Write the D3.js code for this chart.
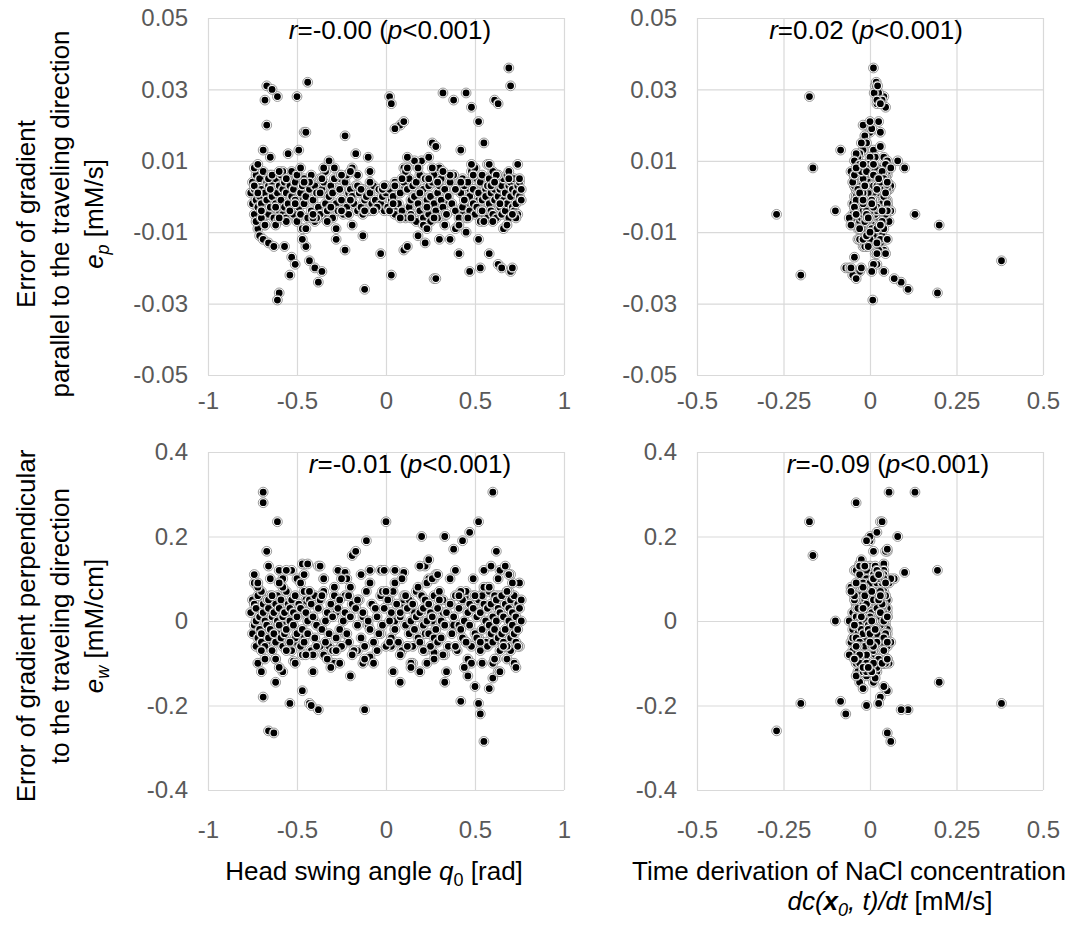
<!DOCTYPE html>
<html>
<head>
<meta charset="utf-8">
<script src="https://cdn.jsdelivr.net/npm/d3@7"></script>
<style>
  body { margin: 0; background: #fff; }
  text { font-family: "Liberation Sans", Arial, sans-serif; }
</style>
</head>
<body>
<svg id="chart" width="1083" height="926"></svg>
<script>
(function(d3) {
  'use strict';

  // one entry per observation: head swing angle, dc/dt, error parallel, error perpendicular
  var headAngle = [
    -0.66,-0.54,-0.61,-0.19,-0.43,-0.60,0.33,0.60,0.10,-0.12,-0.38,0.42,0.53,0.05,0.20,0.27,
    -0.67,-0.64,-0.68,-0.44,-0.67,-0.69,-0.65,-0.50,-0.46,-0.45,-0.55,-0.49,-0.23,0.02,0.03,0.08,0.10,0.05,
    0.24,0.26,0.28,0.32,0.38,0.45,0.48,0.52,0.55,0.61,0.63,0.69,0.70,-0.17,-0.10,0.16,-0.32,0.12,
    -0.72,-0.71,-0.69,-0.66,-0.63,-0.61,-0.53,-0.51,-0.45,-0.40,-0.36,-0.23,-0.03,0.03,0.10,0.12,0.18,
    0.28,0.36,0.41,0.47,0.52,0.58,0.63,0.65,0.70,0.71,-0.47,-0.57,-0.28,0.30,0.22,-0.13,
    -0.69,-0.69,-0.67,-0.66,-0.53,-0.47,-0.44,-0.38,-0.35,-0.27,-0.23,-0.17,-0.11,-0.09,-0.03,0.00,
    0.05,0.22,0.24,0.33,0.38,0.43,0.47,0.52,0.55,0.62,0.64,0.67,0.70,-0.58,0.28,
    -0.72,-0.69,-0.63,-0.62,-0.58,-0.47,-0.42,-0.35,-0.29,-0.26,-0.16,-0.09,0.08,0.15,0.19,0.27,
    0.46,0.50,0.52,0.55,0.58,0.60,0.63,0.68,0.70,-0.52,
    -0.76,-0.75,-0.75,-0.74,-0.74,-0.73,-0.73,-0.73,-0.72,-0.72,
    -0.71,-0.71,-0.70,-0.70,-0.70,-0.69,-0.69,-0.68,-0.68,-0.67,
    -0.67,-0.66,-0.66,-0.65,-0.65,-0.64,-0.64,-0.63,-0.63,-0.62,
    -0.62,-0.61,-0.61,-0.60,-0.60,-0.59,-0.59,-0.58,-0.58,-0.57,
    -0.57,-0.56,-0.56,-0.55,-0.55,-0.54,-0.54,-0.53,-0.53,-0.52,
    -0.52,-0.51,-0.51,-0.50,-0.50,-0.49,-0.48,-0.48,-0.47,-0.46,
    -0.46,-0.45,-0.44,-0.44,-0.43,-0.42,-0.42,-0.41,-0.40,-0.40,
    -0.39,-0.38,-0.37,-0.37,-0.36,-0.35,-0.34,-0.34,-0.33,-0.32,
    -0.31,-0.30,-0.30,-0.29,-0.28,-0.27,-0.26,-0.26,-0.25,-0.24,
    -0.23,-0.22,-0.21,-0.21,-0.20,-0.19,-0.18,-0.17,-0.16,-0.15,
    -0.14,-0.13,-0.12,-0.11,-0.10,-0.09,-0.08,-0.07,-0.06,-0.05,
    -0.04,-0.03,-0.02,-0.01,0.00,0.01,0.02,0.03,0.04,0.05,
    0.06,0.07,0.08,0.09,0.10,0.11,0.12,0.13,0.13,0.14,
    0.15,0.15,0.16,0.17,0.17,0.18,0.19,0.19,0.20,0.21,
    0.21,0.22,0.22,0.23,0.24,0.24,0.25,0.25,0.26,0.27,
    0.27,0.28,0.29,0.29,0.30,0.31,0.31,0.32,0.33,0.34,
    0.35,0.36,0.37,0.38,0.39,0.40,0.41,0.42,0.43,0.43,
    0.44,0.45,0.45,0.46,0.47,0.47,0.48,0.49,0.49,0.50,
    0.51,0.51,0.52,0.53,0.53,0.54,0.54,0.55,0.56,0.56,
    0.57,0.57,0.58,0.58,0.59,0.59,0.60,0.60,0.61,0.61,
    0.62,0.62,0.63,0.63,0.64,0.64,0.65,0.65,0.66,0.66,
    0.67,0.67,0.68,0.68,0.69,0.69,0.70,0.70,0.71,0.71,
    0.72,0.72,0.73,0.73,0.74,0.74,0.75,0.75,0.76,0.76,
    -0.74,-0.70,-0.66,-0.62,-0.58,-0.54,-0.50,-0.47,-0.43,-0.39,
    -0.36,-0.33,-0.29,-0.25,-0.22,-0.19,-0.16,-0.13,-0.09,-0.05,
    -0.02,0.02,0.05,0.08,0.11,0.14,0.18,0.21,0.24,0.27,
    0.30,0.33,0.36,0.39,0.42,0.46,0.50,0.53,0.57,0.60,
    0.63,0.66,0.69,0.72,0.75,-0.72,-0.68,-0.64,-0.56,-0.48,
    -0.41,-0.35,-0.28,-0.20,-0.12,0.00,0.12,0.23,0.32,0.41,
    0.48,0.55,0.62,0.68,0.74,-0.60,-0.45,0.26,0.45,0.58,
    -0.74,-0.70,-0.65,-0.60,-0.56,-0.51,-0.46,-0.41,-0.37,-0.31,
    -0.25,-0.20,-0.14,-0.07,-0.01,0.04,0.09,0.14,0.19,0.23,
    0.29,0.34,0.39,0.44,0.49,0.54,0.59,0.64,0.69,0.73,
    -0.72,-0.62,0.61,0.71
  ];

  var dcdtRate = [
    -0.27,-0.20,-0.175,-0.165,0.38,0.195,0.20,0.13,0.10,0.11,0.09,-0.085,-0.07,-0.10,0.08,0.07,
    0.015,0.02,0.03,0.018,-0.01,-0.02,0.04,0.035,0.0,0.03,-0.03,0.01,-0.015,0.04,0.02,-0.02,0.025,0.005,
    -0.035,-0.01,0.03,0.025,0.035,0.012,0.045,0.0,-0.025,0.02,0.03,0.01,0.022,-0.04,0.015,-0.045,0.05,0.0,
    -0.02,0.01,-0.035,0.03,-0.01,0.008,-0.045,0.02,-0.02,-0.06,-0.03,0.04,0.015,-0.05,0.025,-0.015,0.035,
    -0.04,0.0,0.045,0.04,-0.03,0.02,0.01,-0.055,0.005,-0.025,0.03,-0.005,0.05,-0.02,0.02,-0.01,
    0.055,-0.04,0.05,-0.02,0.01,-0.03,0.04,0.0,0.02,-0.045,0.03,0.045,0.0,-0.01,0.025,0.03,
    -0.035,0.015,-0.025,0.0,0.05,-0.01,0.02,0.035,-0.04,0.01,0.04,-0.015,0.02,0.0,-0.03,
    0.01,0.03,0.05,-0.03,0.02,0.05,-0.01,0.03,-0.02,0.04,0.0,-0.04,0.01,0.035,-0.025,0.02,
    -0.01,0.04,0.025,0.06,-0.02,0.015,-0.035,0.045,0.0,0.03,
    0.01,-0.02,0.03,0.00,-0.01,0.02,-0.03,0.04,0.01,-0.005,
    0.015,-0.025,0.005,0.035,-0.015,0.02,-0.04,0.00,0.025,-0.01,
    0.03,-0.02,0.01,0.045,-0.03,0.005,0.02,-0.01,0.04,-0.035,
    0.00,0.025,-0.015,0.01,0.035,-0.045,0.015,-0.005,0.03,0.02,
    -0.025,0.04,0.005,-0.01,0.02,-0.03,0.05,0.01,-0.02,0.03,
    0.015,-0.04,0.025,0.00,-0.015,0.035,0.01,-0.025,0.045,-0.005,
    0.02,-0.035,0.03,0.005,-0.02,0.04,-0.01,0.015,-0.045,0.025,
    0.00,0.035,-0.03,0.01,0.05,-0.015,0.02,-0.005,0.03,-0.04,
    0.015,-0.02,0.04,0.005,-0.035,0.025,-0.01,0.045,0.00,-0.025,
    0.03,-0.015,0.01,0.035,-0.04,0.02,-0.005,0.015,-0.03,0.04,
    0.005,-0.02,0.025,-0.045,0.01,0.03,-0.01,0.02,-0.035,0.045,
    0.00,-0.025,0.035,0.015,-0.015,0.05,-0.03,0.01,0.025,-0.05,
    0.02,-0.01,0.04,-0.02,0.005,0.03,-0.04,0.015,-0.005,0.035,
    -0.03,0.025,0.00,0.045,-0.015,0.01,-0.025,0.035,0.02,-0.045,
    0.005,0.03,-0.02,0.015,-0.035,0.04,0.00,-0.01,0.025,-0.05,
    0.035,-0.005,0.02,-0.03,0.01,0.045,-0.015,0.025,-0.04,0.005,
    0.015,-0.025,0.05,0.00,-0.02,0.03,-0.035,0.02,0.01,-0.01,
    0.04,-0.04,0.005,0.025,-0.03,0.015,-0.005,0.035,-0.015,0.02,
    -0.02,0.045,0.01,-0.045,0.03,0.00,-0.025,0.02,0.04,-0.01,
    0.025,-0.035,0.015,-0.005,0.035,-0.02,0.05,0.005,-0.03,0.01,
    -0.015,0.04,-0.04,0.02,0.00,0.03,-0.01,0.045,-0.025,0.015,
    0.035,-0.005,0.025,-0.035,0.01,-0.02,0.04,0.005,-0.045,0.03,
    0.00,0.02,-0.03,0.05,-0.01,0.015,-0.02,0.035,0.005,-0.04,
    0.055,-0.05,0.01,0.02,-0.055,0.06,-0.01,0.00,0.03,-0.02,
    0.045,-0.03,0.005,-0.015,0.025,0.015,-0.045,0.04,-0.005,0.01,
    -0.035,0.05,0.02,-0.025,0.035,-0.04,0.00,0.03,0.015,-0.01,
    0.025,-0.02,0.04,0.005,-0.05,0.045,-0.015,0.02,-0.03,0.055,
    0.01,-0.035,0.03,0.045,-0.02,-0.005,0.025,-0.045,0.035,0.0,
    -0.06,0.015,0.04,-0.025,0.05,0.005,-0.04,0.02,-0.01,0.03,
    0.045,-0.015,0.025,-0.055,0.01,0.035,-0.03,0.06,0.0,-0.02,
    0.01,-0.02,0.03,-0.01,0.02,-0.03,0.04,0.0,-0.02,0.02,
    0.01,-0.04,0.03,-0.01,0.02,-0.02,0.04,0.0,-0.03,0.01,
    0.03,-0.01,0.02,-0.02,0.01,0.035,-0.015,0.005,0.025,-0.005,
    0.045,-0.045,0.05,-0.04
  ];

  var errParallel = [
    -0.005,-0.022,0.028,0.008,-0.018,-0.027,-0.008,-0.005,0.008,-0.026,-0.024,0.013,-0.020,-0.004,0.010,-0.023,
    0.031,0.030,0.027,0.032,0.020,0.013,0.011,0.028,0.018,0.018,0.012,0.013,0.017,0.028,0.026,0.020,0.021,0.019,
    0.011,0.015,0.014,0.029,0.027,0.029,0.025,0.021,0.015,0.027,0.026,0.036,0.031,0.012,0.011,0.010,0.010,0.011,
    -0.009,-0.011,-0.012,-0.013,-0.014,-0.029,-0.017,-0.019,-0.014,-0.020,-0.021,-0.015,-0.016,-0.022,-0.015,-0.014,-0.011,
    -0.023,-0.012,-0.016,-0.021,-0.012,-0.016,-0.019,-0.020,-0.021,-0.020,-0.012,-0.014,-0.012,-0.012,-0.013,-0.011,
    0.002,-0.003,0.004,-0.005,0.006,-0.002,0.003,-0.006,0.001,0.005,-0.004,0.002,-0.001,0.007,-0.003,0.000,
    0.004,-0.005,0.003,-0.002,0.006,-0.004,0.002,0.005,-0.006,0.001,-0.003,0.004,-0.001,0.003,-0.002,
    0.001,-0.004,0.002,-0.003,0.005,-0.001,0.004,-0.005,0.002,-0.002,0.006,-0.004,0.003,-0.006,0.001,0.005,
    -0.003,0.002,-0.001,0.003,-0.004,0.006,-0.002,0.004,-0.005,0.001,
    0.001,-0.002,0.004,-0.005,0.002,-0.001,0.006,-0.007,0.003,-0.003,
    0.000,0.005,-0.006,0.002,-0.002,0.007,-0.004,0.001,-0.008,0.004,
    -0.001,0.003,-0.005,0.006,-0.003,0.000,0.004,-0.006,0.002,-0.002,
    0.005,-0.007,0.001,-0.004,0.003,0.006,-0.001,-0.005,0.002,0.004,
    -0.003,0.001,-0.006,0.005,-0.002,0.003,-0.004,0.000,0.007,-0.005,
    0.002,-0.001,0.004,-0.007,0.006,-0.003,0.001,-0.005,0.003,0.005,
    -0.002,0.000,-0.006,0.004,0.002,-0.004,0.006,-0.001,0.003,-0.007,
    0.001,-0.003,0.005,-0.005,0.002,0.004,-0.002,0.007,-0.004,0.000,
    0.003,-0.006,0.001,0.005,-0.002,-0.004,0.002,0.006,-0.001,-0.005,
    0.004,-0.003,0.001,-0.005,0.002,0.000,-0.002,0.003,-0.004,0.001,
    -0.003,0.002,-0.001,0.000,-0.004,0.001,-0.002,0.003,-0.001,-0.003,
    0.002,-0.002,0.000,-0.004,0.001,-0.003,0.002,-0.001,0.000,-0.005,
    0.003,-0.002,0.001,-0.004,0.004,-0.006,0.002,-0.003,0.005,-0.001,
    -0.005,0.003,0.000,-0.007,0.004,-0.002,0.006,-0.004,0.001,-0.006,
    0.002,-0.003,0.005,-0.001,-0.005,0.003,0.000,-0.007,0.004,-0.002,
    0.006,-0.004,0.001,-0.006,0.003,-0.001,0.005,-0.003,0.002,-0.005,
    0.000,0.004,-0.002,0.006,-0.004,0.002,-0.006,0.001,0.005,-0.003,
    0.003,-0.001,-0.006,0.004,0.000,-0.004,0.007,-0.002,0.002,-0.005,
    0.005,-0.003,0.001,-0.007,0.004,-0.001,0.006,-0.004,0.002,0.000,
    -0.006,0.003,-0.002,0.005,-0.004,0.001,0.007,-0.005,0.002,-0.001,
    0.004,-0.006,0.000,0.006,-0.003,0.002,-0.005,0.003,-0.001,0.005,
    -0.004,0.001,0.006,-0.002,0.003,-0.006,0.000,0.004,-0.003,0.002,
    0.005,-0.004,0.001,-0.002,0.003,-0.005,0.000,0.004,-0.001,0.002,
    0.008,-0.006,0.005,-0.008,0.007,-0.004,0.006,-0.009,0.004,-0.006,
    0.005,-0.007,0.008,-0.004,0.006,-0.008,0.003,-0.005,0.004,-0.003,
    0.002,-0.004,0.003,-0.006,0.007,-0.005,0.008,-0.008,0.005,-0.006,
    0.008,-0.005,0.006,-0.009,0.004,-0.006,0.008,-0.004,0.009,-0.007,
    0.006,-0.009,0.007,-0.005,0.005,0.009,-0.008,0.006,-0.007,0.008,
    -0.006,0.008,-0.009,0.007,-0.004,0.003,0.008,-0.009,0.007,-0.008,
    0.009,-0.007,0.006,-0.008,0.009,0.007,-0.009,0.008,-0.010,0.009,
    0.003,-0.004,0.002,-0.006,0.005,-0.002,0.004,-0.005,0.001,-0.003,
    0.006,-0.001,0.002,-0.004,0.003,-0.002,0.005,-0.006,0.001,-0.003,
    0.004,-0.005,0.002,-0.001,0.006,-0.004,0.003,-0.002,0.005,-0.006,
    0.001,-0.003,0.004,-0.005
  ];

  var errPerp = [
    -0.26,-0.195,0.235,0.155,-0.195,0.12,-0.145,0.305,0.115,-0.21,-0.21,-0.19,-0.22,0.00,0.20,0.10,
    0.02,-0.03,0.04,0.01,-0.05,0.06,-0.02,0.03,-0.04,0.05,0.0,0.02,-0.03,0.05,-0.06,0.01,0.04,-0.02,
    0.03,0.0,-0.05,0.02,-0.01,0.06,0.03,-0.04,0.07,-0.02,0.05,0.01,-0.03,0.04,-0.01,0.02,-0.06,0.03,
    0.03,-0.04,0.05,-0.01,0.02,-0.03,0.01,-0.05,0.04,0.0,-0.02,0.06,-0.03,0.02,0.05,-0.06,0.01,
    -0.02,0.04,-0.01,0.03,-0.04,0.0,0.06,-0.05,0.02,-0.02,0.03,-0.01,0.02,0.05,-0.03,0.01,
    0.305,0.28,0.165,0.13,0.12,0.135,0.135,0.13,0.10,0.12,0.115,0.165,0.19,0.12,0.12,0.235,
    0.12,0.13,0.145,0.20,0.17,0.19,0.21,0.235,0.12,0.165,0.12,0.13,0.11,0.10,0.11,
    -0.10,-0.18,-0.265,-0.145,-0.12,-0.165,-0.20,-0.08,-0.10,-0.10,-0.07,-0.085,-0.145,-0.10,-0.12,-0.075,
    -0.13,-0.155,-0.195,-0.285,-0.16,-0.135,-0.12,-0.09,-0.07,-0.095,
    0.02,-0.03,0.05,-0.01,0.04,-0.06,0.00,0.03,-0.04,0.06,
    -0.02,0.01,-0.05,0.07,-0.03,0.02,0.04,-0.06,0.00,-0.01,
    0.05,-0.04,0.03,-0.02,0.06,0.01,-0.07,0.02,-0.03,0.04,
    -0.05,0.00,0.06,-0.01,0.03,-0.04,0.05,-0.06,0.01,0.02,
    -0.03,0.07,-0.02,0.04,-0.05,0.00,0.03,-0.07,0.05,-0.01,
    0.02,-0.04,0.06,-0.03,0.01,0.04,-0.06,0.03,-0.02,0.07,
    -0.05,0.02,0.00,-0.03,0.05,-0.07,0.04,0.01,-0.04,0.06,
    -0.01,0.03,-0.06,0.05,-0.02,0.07,0.00,-0.05,0.02,-0.03,
    0.04,-0.07,0.01,0.06,-0.04,0.03,-0.02,0.05,-0.06,0.00,
    0.02,-0.03,0.06,-0.05,0.01,0.04,-0.07,0.03,-0.01,0.05,
    -0.04,0.02,-0.06,0.07,0.00,-0.02,0.04,-0.05,0.03,0.01,
    -0.03,0.06,-0.01,0.03,-0.06,0.05,0.00,-0.04,0.07,-0.02,
    0.04,-0.05,0.02,-0.07,0.06,-0.01,0.03,-0.03,0.05,0.00,
    -0.06,0.04,-0.02,0.01,0.07,-0.04,0.02,-0.05,0.06,-0.01,
    0.03,-0.07,0.05,0.00,-0.03,0.04,-0.06,0.02,0.01,-0.04,
    0.06,-0.02,0.03,-0.05,0.07,0.00,-0.04,0.05,-0.01,0.02,
    -0.06,0.04,-0.03,0.01,0.06,-0.07,0.03,-0.02,0.05,-0.04,
    0.00,0.07,-0.05,0.02,-0.01,0.04,-0.06,0.03,0.06,-0.03,
    0.01,-0.04,0.05,-0.07,0.02,0.06,-0.02,0.04,-0.05,0.00,
    0.03,-0.06,0.07,-0.01,0.04,-0.03,0.01,-0.05,0.06,-0.02,
    0.05,0.00,-0.04,0.03,-0.07,0.02,0.06,-0.03,0.01,-0.05,
    0.04,-0.02,0.07,-0.06,0.00,0.03,-0.04,0.05,-0.01,0.02,
    -0.03,0.06,-0.05,0.01,0.04,-0.02,0.03,-0.06,0.00,0.05,
    0.09,-0.07,0.05,-0.09,0.08,-0.05,0.10,-0.08,0.07,-0.06,
    0.06,-0.09,0.08,-0.06,0.10,-0.08,0.05,-0.10,0.09,-0.07,
    0.07,-0.05,0.09,-0.08,0.06,-0.10,0.08,-0.07,0.10,-0.09,
    0.05,-0.08,0.10,-0.06,0.07,-0.09,0.06,-0.05,0.08,-0.10,
    0.10,-0.06,0.07,-0.10,0.09,0.08,-0.09,0.06,-0.07,0.09,
    -0.08,0.10,-0.07,0.08,-0.09,0.07,-0.06,0.09,-0.08,0.06,
    -0.10,0.08,-0.09,0.07,-0.06,0.09,-0.08,0.10,-0.05,0.08,
    0.11,-0.12,0.10,-0.11,0.12,-0.10,0.11,-0.12,0.13,-0.11,
    0.10,-0.13,0.11,-0.10,0.12,-0.12,0.10,-0.11,0.13,-0.10,
    0.11,-0.12,0.12,-0.11,0.10,-0.10,0.13,-0.12,0.11,-0.11,
    0.09,-0.09,-0.09,0.09
  ];

  var angleTicks = [-1, -0.5, 0, 0.5, 1];
  var angleLabels = ['-1', '-0.5', '0', '0.5', '1'];
  var rateTicks = [-0.5, -0.25, 0, 0.25, 0.5];
  var rateLabels = ['-0.5', '-0.25', '0', '0.25', '0.5'];
  var parTicks = [-0.05, -0.03, -0.01, 0.01, 0.03, 0.05];
  var parLabels = ['-0.05', '-0.03', '-0.01', '0.01', '0.03', '0.05'];
  var perpTicks = [-0.4, -0.2, 0, 0.2, 0.4];
  var perpLabels = ['-0.4', '-0.2', '0', '0.2', '0.4'];
  var corrR = ['-0.00', '0.02', '-0.01', '-0.09'];
  var corrP = ['<0.001', '<0.001', '<0.001', '<0.001'];

  var n = Math.min(headAngle.length, dcdtRate.length, errParallel.length, errPerp.length);
  var idx = d3.range(n);

  var gridColor = '#d9d9d9';
  var tickColor = '#595959';

  var svg = d3.select('#chart');

  var panels = [
    { xs: headAngle, ys: errParallel, xDom: [-1, 1], xT: angleTicks, xL: angleLabels,
      yDom: [-0.05, 0.05], yT: parTicks, yL: parLabels, left: 208, right: 564, top: 18, bottom: 375, pad: 17, noteX: 390 },
    { xs: dcdtRate, ys: errParallel, xDom: [-0.5, 0.5], xT: rateTicks, xL: rateLabels,
      yDom: [-0.05, 0.05], yT: parTicks, yL: parLabels, left: 697, right: 1043, top: 18, bottom: 375, pad: 17, noteX: 866 },
    { xs: headAngle, ys: errPerp, xDom: [-1, 1], xT: angleTicks, xL: angleLabels,
      yDom: [-0.4, 0.4], yT: perpTicks, yL: perpLabels, left: 208, right: 564, top: 452, bottom: 790, pad: 31, noteX: 410 },
    { xs: dcdtRate, ys: errPerp, xDom: [-0.5, 0.5], xT: rateTicks, xL: rateLabels,
      yDom: [-0.4, 0.4], yT: perpTicks, yL: perpLabels, left: 697, right: 1043, top: 452, bottom: 790, pad: 31, noteX: 888 }
  ];

  panels.forEach(function(p, k) {
    var x = d3.scaleLinear().domain(p.xDom).range([p.left, p.right]);
    var y = d3.scaleLinear().domain(p.yDom).range([p.bottom, p.top]);
    var g = svg.append('g');

    var gx = g.append('g')
      .attr('transform', 'translate(0,' + p.bottom + ')')
      .call(d3.axisBottom(x)
        .tickValues(p.xT)
        .tickSize(-(p.bottom - p.top))
        .tickPadding(p.pad)
        .tickFormat(function(d, i) { return p.xL[i]; }));

    var gy = g.append('g')
      .attr('transform', 'translate(' + p.left + ',0)')
      .call(d3.axisLeft(y)
        .tickValues(p.yT)
        .tickSize(-(p.right - p.left))
        .tickPadding(20)
        .tickFormat(function(d, i) { return p.yL[i]; }));

    [gx, gy].forEach(function(a) {
      a.select('.domain').remove();
      a.selectAll('line').attr('stroke', gridColor).attr('stroke-width', 1.2);
      a.selectAll('text')
        .attr('fill', tickColor)
        .style('font-size', '24px');
    });

    var pts = g.append('g').selectAll('g')
      .data(idx)
      .enter()
      .append('g')
      .attr('transform', function(i) {
        return 'translate(' + x(p.xs[i]) + ',' + y(p.ys[i]) + ')';
      });
    pts.append('circle')
      .attr('r', 4.9)
      .attr('fill', '#fff')
      .attr('stroke', '#7f7f7f')
      .attr('stroke-width', 0.8);
    pts.append('circle')
      .attr('r', 3.4)
      .attr('fill', '#000');

    // correlation note
    var note = g.append('text')
      .attr('x', p.noteX)
      .attr('y', p.top + 21)
      .attr('text-anchor', 'middle')
      .style('font-size', '26px')
      .attr('fill', '#000');
    note.append('tspan').style('font-style', 'italic').text('r');
    note.append('tspan').text('=' + corrR[k] + ' (');
    note.append('tspan').style('font-style', 'italic').text('p');
    note.append('tspan').text(corrP[k] + ')');
  });

  // y titles
  function yTitle(cy, lines, sub, unit) {
    var t = svg.append('g')
      .attr('transform', 'translate(0,' + cy + ') rotate(-90)');
    var base = [35, 69, 103];
    lines.forEach(function(s, i) {
      t.append('text')
        .attr('x', 0).attr('y', base[i])
        .attr('text-anchor', 'middle')
        .style('font-size', '26px')
        .attr('fill', '#000')
        .text(s);
    });
    var last = t.append('text')
      .attr('x', 0).attr('y', base[2])
      .attr('text-anchor', 'middle')
      .style('font-size', '26px')
      .attr('fill', '#000');
    last.append('tspan').style('font-style', 'italic').text('e');
    last.append('tspan').style('font-style', 'italic').style('font-size', '18px').attr('dy', 6).text(sub);
    last.append('tspan').attr('dy', -6).text(' ' + unit);
  }
  yTitle(214, ['Error of gradient', 'parallel to the traveling direction'], 'p', '[mM/s]');
  yTitle(626, ['Error of gradient perpendicular', 'to the traveling direction'], 'w', '[mM/cm]');

  // x titles
  var xt1 = svg.append('text')
    .attr('x', 374).attr('y', 880)
    .attr('text-anchor', 'middle')
    .style('font-size', '26px')
    .attr('fill', '#000');
  xt1.append('tspan').text('Head swing angle ');
  xt1.append('tspan').style('font-style', 'italic').text('q');
  xt1.append('tspan').style('font-size', '18px').attr('dy', 6).text('0');
  xt1.append('tspan').attr('dy', -6).text(' [rad]');

  svg.append('text')
    .attr('x', 849).attr('y', 880)
    .attr('text-anchor', 'middle')
    .style('font-size', '26px')
    .attr('fill', '#000')
    .text('Time derivation of NaCl concentration');

  var xt2 = svg.append('text')
    .attr('x', 890).attr('y', 910)
    .attr('text-anchor', 'middle')
    .style('font-size', '26px')
    .attr('fill', '#000');
  xt2.append('tspan').style('font-style', 'italic').text('dc(');
  xt2.append('tspan').style('font-style', 'italic').style('font-weight', 'bold').text('x');
  xt2.append('tspan').style('font-style', 'italic').style('font-size', '18px').attr('dy', 6).text('0');
  xt2.append('tspan').style('font-style', 'italic').attr('dy', -6).text(', t)/dt');
  xt2.append('tspan').text(' [mM/s]');
})(window.d3);
</script>
</body>
</html>
